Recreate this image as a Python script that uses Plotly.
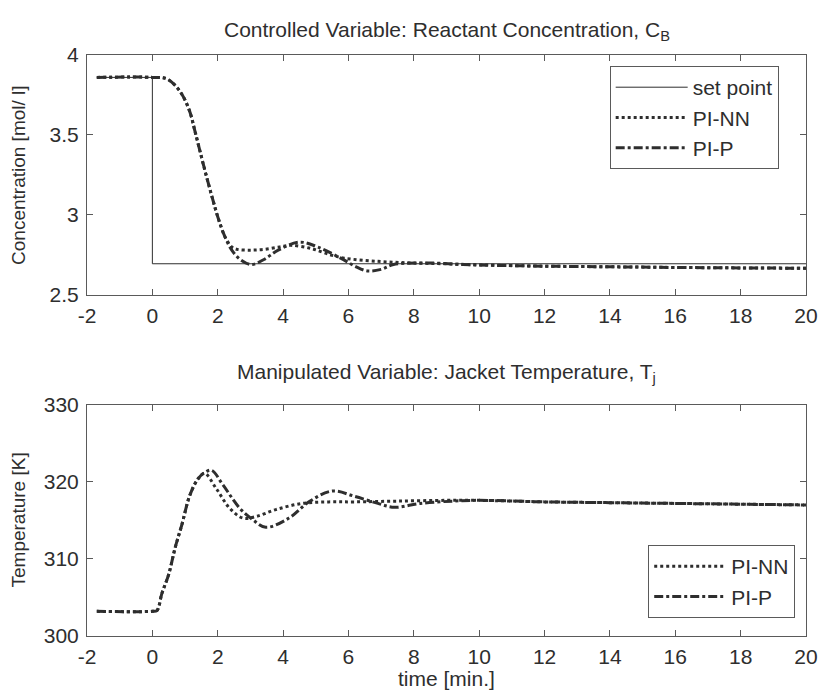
import plotly.graph_objects as go
from plotly.subplots import make_subplots

# ---- data: top panel, reactant concentration C_B [mol/l] ----
sp_t = [-1.7, 0, 0, 20]
sp_cb = [3.86, 3.86, 2.695, 2.695]

t_cb_nn = [-1.7, 0, 0.45, 0.82, 1.12, 1.32, 1.58, 1.83, 2.03, 2.23, 2.43, 2.6, 3.0, 3.44,
           3.9, 4.24, 4.86, 5.46, 5.87, 6.9, 7.9, 8.9, 10, 12, 14, 16, 18, 20]
cb_nn = [3.86, 3.86, 3.85, 3.78, 3.66, 3.51, 3.30, 3.11, 2.97, 2.86, 2.80, 2.785, 2.78, 2.785,
         2.80, 2.81, 2.79, 2.75, 2.73, 2.71, 2.70, 2.695, 2.688, 2.68, 2.676, 2.672, 2.669, 2.667]

t_cb_p = [-1.7, 0, 0.45, 0.82, 1.12, 1.32, 1.58, 1.83, 2.03, 2.23, 2.43, 2.7, 3.03, 3.4, 3.85,
          4.5, 5.06, 5.76, 6.2, 6.58, 7.0, 7.38, 8.4, 9.5, 10.5, 12, 14, 16, 18, 20]
cb_p = [3.86, 3.86, 3.85, 3.78, 3.66, 3.51, 3.30, 3.11, 2.97, 2.86, 2.78, 2.72, 2.69, 2.72, 2.78,
        2.83, 2.80, 2.73, 2.68, 2.65, 2.66, 2.69, 2.70, 2.69, 2.685, 2.68, 2.676, 2.672, 2.669, 2.667]

# ---- data: bottom panel, jacket temperature T_j [K] ----
t_tj_nn = [-1.7, 0, 0.14, 0.29, 0.5, 0.7, 0.9, 1.15, 1.4, 1.6, 1.96, 2.36, 2.77, 3.17, 3.78,
           4.58, 5.4, 6.2, 7.5, 9, 10, 12, 14, 16, 18, 20]
tj_nn = [303.2, 303.2, 303.3, 305.5, 308.0, 311.5, 314.4, 318.3, 320.4, 321.1, 319.1, 316.6,
         315.3, 315.5, 316.4, 317.2, 317.4, 317.4, 317.5, 317.6, 317.6, 317.4, 317.3, 317.2,
         317.1, 317.0]

t_tj_p = [-1.7, 0, 0.14, 0.29, 0.5, 0.7, 0.9, 1.15, 1.4, 1.6, 1.81, 2.16, 2.67, 3.07, 3.47,
          4.18, 4.79, 5.5, 6.2, 6.9, 7.41, 8.2, 9.2, 10, 12, 14, 16, 18, 20]
tj_p = [303.2, 303.2, 303.3, 305.5, 308.0, 311.5, 314.4, 318.3, 320.4, 321.2, 321.5, 319.6,
        316.6, 315.1, 314.1, 315.3, 317.4, 318.8, 318.1, 317.2, 316.7, 317.2, 317.5, 317.6,
        317.4, 317.3, 317.2, 317.1, 317.0]

x_ticks = list(range(-2, 21, 2))
x_tick_text = [str(v) for v in x_ticks]          # plain hyphen minus, as in the original
cb_ticks = [2.5, 3, 3.5, 4]
cb_tick_text = ["2.5", "3", "3.5", "4"]
tj_ticks = [300, 310, 320, 330]
tj_tick_text = ["300", "310", "320", "330"]

INK = "#2e2e2e"
AX = "#5a5a5a"
FONT = "Liberation Sans, Arial, sans-serif"

fig = make_subplots(rows=2, cols=1, vertical_spacing=0.19)

fig.add_trace(go.Scatter(x=sp_t, y=sp_cb, mode="lines", name="set point",
                         line=dict(color=INK, width=1), legend="legend"), row=1, col=1)
fig.add_trace(go.Scatter(x=t_cb_nn, y=cb_nn, mode="lines", name="PI-NN",
                         line=dict(color=INK, width=3, dash="dot", shape="spline"),
                         legend="legend"), row=1, col=1)
fig.add_trace(go.Scatter(x=t_cb_p, y=cb_p, mode="lines", name="PI-P",
                         line=dict(color=INK, width=3, dash="dashdot", shape="spline"),
                         legend="legend"), row=1, col=1)

fig.add_trace(go.Scatter(x=t_tj_nn, y=tj_nn, mode="lines", name="PI-NN",
                         line=dict(color=INK, width=3, dash="dot", shape="spline"),
                         legend="legend2"), row=2, col=1)
fig.add_trace(go.Scatter(x=t_tj_p, y=tj_p, mode="lines", name="PI-P",
                         line=dict(color=INK, width=3, dash="dashdot", shape="spline"),
                         legend="legend2"), row=2, col=1)

axis_common = dict(showline=True, linecolor=AX, linewidth=1, mirror="ticks",
                   ticks="inside", ticklen=6, tickcolor=AX, showgrid=False, zeroline=False,
                   tickfont=dict(size=21, color=INK, family=FONT))

fig.update_xaxes(range=[-2, 20], tickvals=x_ticks, ticktext=x_tick_text,
                 ticklabelstandoff=2, **axis_common)
fig.update_yaxes(ticklabelstandoff=3, **axis_common)
fig.update_yaxes(range=[2.5, 4], tickvals=cb_ticks, ticktext=cb_tick_text, row=1, col=1)
fig.update_yaxes(range=[300, 330], tickvals=tj_ticks, ticktext=tj_tick_text, row=2, col=1)

title_font = dict(size=21, color=INK, family=FONT)
label_font = dict(size=19, color=INK, family=FONT)
xlabel_font = dict(size=21, color=INK, family=FONT)
legend_font = dict(size=21, color=INK, family=FONT)

fig.update_layout(
    width=822, height=684,
    margin=dict(l=79, r=17, t=47, b=56),
    paper_bgcolor="white", plot_bgcolor="white",
    font=dict(family=FONT, color=INK),
    yaxis=dict(domain=[0.587, 1.0]),
    yaxis2=dict(domain=[0.0, 0.398]),
    legend=dict(x=0.962, xanchor="right", y=0.981, yanchor="top",
                bordercolor=AX, borderwidth=1, bgcolor="white", itemwidth=72,
                entrywidth=133, entrywidthmode="pixels",
                font=legend_font, tracegroupgap=0),
    legend2=dict(x=0.985, xanchor="right", y=0.031, yanchor="bottom",
                 bordercolor=AX, borderwidth=1, bgcolor="white", itemwidth=72,
                 entrywidth=76, entrywidthmode="pixels",
                 font=legend_font),
    annotations=[
        dict(text="Controlled Variable: Reactant Concentration, C<sub>B</sub>",
             xref="paper", yref="paper", x=0.5, y=1.0, yshift=24, yanchor="middle",
             showarrow=False, font=title_font),
        dict(text="Manipulated Variable: Jacket Temperature, T<sub>j</sub>",
             xref="paper", yref="paper", x=0.5, y=0.398, yshift=32, yanchor="middle",
             showarrow=False, font=title_font),
        dict(text="Concentration [mol/ l]", textangle=-90,
             xref="paper", yref="paper", x=-0.095, xanchor="center", y=0.793, yanchor="middle",
             showarrow=False, font=label_font),
        dict(text="Temperature [K]", textangle=-90,
             xref="paper", yref="paper", x=-0.095, xanchor="center", y=0.2, yanchor="middle",
             showarrow=False, font=label_font),
        dict(text="time [min.]",
             xref="paper", yref="paper", x=0.5, y=0.0, yshift=-42, yanchor="middle",
             showarrow=False, font=xlabel_font),
    ],
)

fig.write_html("out.html")
